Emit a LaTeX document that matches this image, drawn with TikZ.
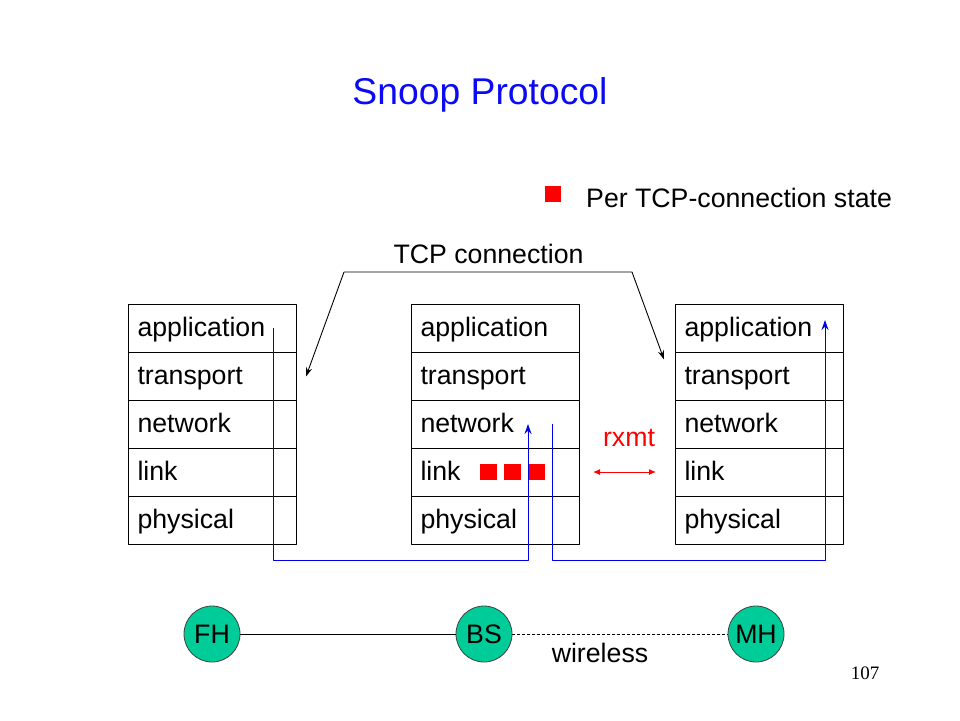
\documentclass[tikz,border=0pt]{standalone}
\usepackage{fontspec}
\setmainfont{Liberation Sans}
\newfontfamily\pagenumfont{Liberation Serif}
\usetikzlibrary{arrows.meta}
\definecolor{hostgreen}{RGB}{0,204,153}
\definecolor{pathblue}{RGB}{0,0,230}
\definecolor{titleblue}{RGB}{10,10,245}
\newcommand\slidefont{\fontsize{26.7pt}{32pt}\selectfont}
\newcommand\titlefont{\fontsize{37.3pt}{44pt}\selectfont}
\begin{document}
\begin{tikzpicture}[x=1pt,y=-1pt,line join=round,>={Stealth[length=9pt,width=6pt]}]
\tikzset{layer/.style={draw,line width=1pt,anchor=north west,minimum width=168pt,minimum height=48pt,
    inner xsep=9pt,text height=0.8em,text depth=0.2em,font=\slidefont},
  host/.style={circle,draw=black!75,line width=0.8pt,fill=hostgreen,minimum size=56pt,inner sep=0pt,font=\slidefont},
  blueline/.style={pathblue,line width=1pt,-{Stealth[length=10pt,width=7pt]}},
  statebox/.style={fill=red}}
\useasboundingbox (0,0) rectangle (960,720);
% title and legend
\node[anchor=base,text=titleblue,font=\titlefont] (title) at (480,104.5) {Snoop Protocol};
\fill[statebox] (545,186) rectangle +(16,16);
\node[anchor=base west,font=\slidefont,inner sep=0pt] (legend) at (586,207) {Per TCP-connection state};
% protocol stacks
\foreach \s/\x in {fh/128,bs/411,mh/675}
{
	\foreach \l/\t/\y in {app/application/304,trans/transport/352,net/network/400,link/link/448,phys/physical/496}
	{
		\node[layer] (\s-\l) at (\x,\y) {\makebox[150pt][l]{\raisebox{-4.5pt}{\t}}};
	}
}
% end to end connection
\coordinate (tcp-l) at (344,272);
\coordinate (tcp-r) at (632,272);
\node[anchor=base,font=\slidefont,inner sep=0pt] (tcp) at (488.5,263) {TCP connection};
\draw[line width=0.9pt,->] (tcp-l) -- ([xshift=9pt]fh-trans.east);
\draw[line width=0.9pt,->] (tcp-l) -- (tcp-r) -- ([xshift=-11pt,yshift=17pt]mh-trans.west);
% cached packets at the base station
\foreach \i in {0,1,2}
{
	\fill[statebox] ({480+\i*24},464) rectangle +(17,16);
}
% packet path
\coordinate (floor) at (0,560);
\coordinate (fh-out) at (273,328);
\coordinate (bs-in) at (528,424);
\coordinate (bs-out) at (552,424);
\coordinate (mh-in) at (825,320);
\draw[blueline] (fh-out) -- (fh-out |- floor) -| (bs-in);
\draw[blueline] (bs-out) -- (bs-out |- floor) -| (mh-in);
% local retransmission
\node[anchor=base,text=red,font=\slidefont,inner sep=0pt] (rxmt) at (629,446) {rxmt};
\coordinate (rx-l) at (593,472);
\coordinate (rx-r) at (656,472);
\draw[red,line width=1pt,{Latex[length=7pt,width=6pt]}-{Latex[length=7pt,width=6pt]}] (rx-l) -- (rx-r);
% hosts
\node[host] (FH) at (212,634) {FH};
\node[host] (BS) at (484,634) {BS};
\node[host] (MH) at (756,634) {MH};
\draw[line width=0.8pt] (FH) -- (BS);
\draw[line width=0.8pt,dashed,dash pattern=on 3pt off 2pt] (BS) -- (MH);
\node[anchor=base,font=\slidefont,inner sep=0pt] (wireless) at (600,662) {wireless};
\node[anchor=base,font=\pagenumfont\fontsize{19pt}{22pt}\selectfont,inner sep=0pt] (pagenum) at (865,679) {107};
\end{tikzpicture}
\end{document}
